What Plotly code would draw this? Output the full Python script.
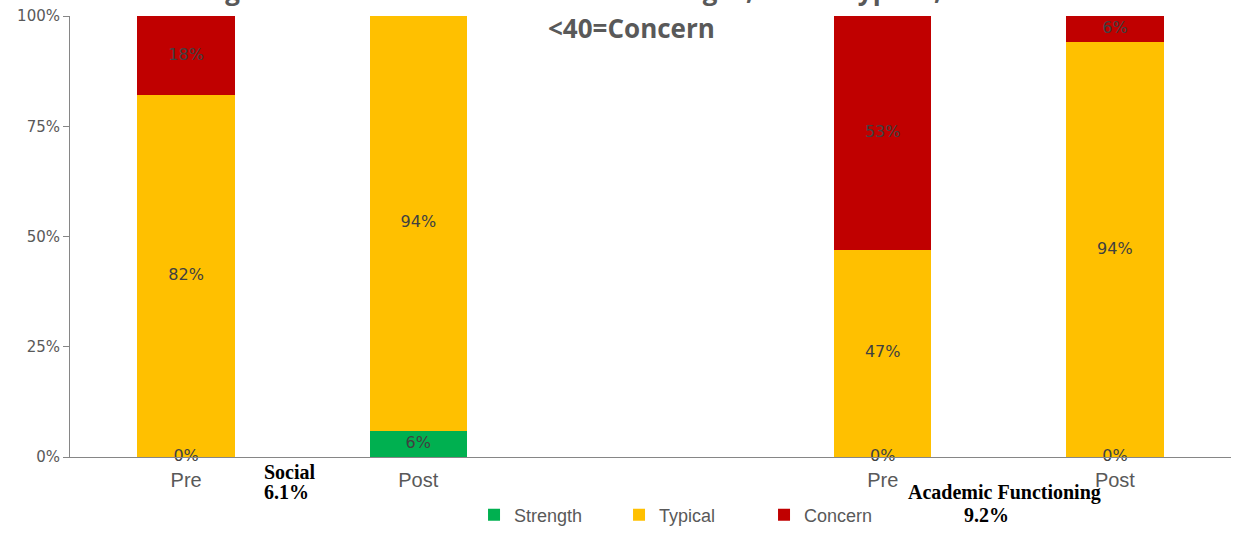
import plotly.graph_objects as go

# ---- data ----
categories = ["Social Pre", "Social Post", "gap", "Academic Pre", "Academic Post"]
tick_labels = ["Pre", "Post", "", "Pre", "Post"]
strength = [0, 6, None, 0, 0]
typical = [82, 94, None, 47, 94]
concern = [18, None, None, 53, 6]

series = [
    ("Strength", strength, "#00B050"),
    ("Typical", typical, "#FFC000"),
    ("Concern", concern, "#C00000"),
]

fig = go.Figure()
for name, vals, col in series:
    fig.add_trace(go.Bar(
        x=categories, y=vals, name=name,
        marker=dict(color=col, line=dict(width=0)),
        hoverinfo="skip",
    ))

# data labels at segment centres (computed from the data)
lab_x, lab_y, lab_t = [], [], []
base = [0] * len(categories)
for name, vals, col in series:
    for i, v in enumerate(vals):
        if v is None:
            continue
        lab_x.append(categories[i])
        lab_y.append(base[i] + v / 2)
        lab_t.append(f"{v}%")
        base[i] += v
fig.add_trace(go.Scatter(
    x=lab_x, y=lab_y, text=lab_t, mode="text",
    textfont=dict(family="DejaVu Sans", size=16, color="#404040"),
    showlegend=False, hoverinfo="skip", cliponaxis=False,
))

fig.update_layout(
    barmode="stack",
    bargap=0.58,
    width=1233, height=539,
    margin=dict(l=70, r=2, t=16, b=82),
    plot_bgcolor="white", paper_bgcolor="white",
    showlegend=True,
    legend=dict(
        orientation="h", x=0.348, xanchor="left", y=-0.1315, yanchor="middle",
        font=dict(family="Liberation Sans", size=18, color="#595959"),
        entrywidth=100, itemwidth=30, traceorder="normal",
    ),
    xaxis=dict(
        type="category", categoryorder="array", categoryarray=categories,
        tickmode="array", tickvals=categories, ticktext=tick_labels,
        range=[-0.5, 4.5],
        showline=True, linecolor="#868686", linewidth=1,
        ticks="outside", ticklen=5, tickcolor="rgba(0,0,0,0)",
        tickfont=dict(family="Liberation Sans", size=20, color="#595959"),
        showgrid=False, zeroline=False,
    ),
    yaxis=dict(
        range=[0, 100], tickvals=[0, 25, 50, 75, 100],
        ticktext=["0%", "25%", "50%", "75%", "100%"],
        showline=True, linecolor="#868686", linewidth=1,
        ticks="outside", ticklen=6, tickcolor="#868686",
        tickfont=dict(family="DejaVu Sans", size=15, color="#595959"),
        showgrid=False, zeroline=False,
    ),
)

title_font = dict(family="Open Sans", size=26, color="#595959", weight="bold")
fig.add_annotation(
    text="<b>Figure 2 Child ABAS-3 Scores >60=Strength, 41-59=Typical,</b>",
    xref="paper", yref="paper", x=0.432, y=1.058, xanchor="center", yanchor="middle",
    showarrow=False, font=title_font,
)
fig.add_annotation(
    text="<b>&lt;40=Concern</b>",
    xref="paper", yref="paper", x=0.484, y=0.9728, xanchor="center", yanchor="middle",
    showarrow=False, font=title_font,
)

serif = dict(family="Liberation Serif", size=20, color="black")
fig.add_annotation(text="<b>Social</b>", xref="paper", yref="paper", x=0.1654, y=-0.034,
                   xanchor="left", yanchor="middle", showarrow=False, font=serif)
fig.add_annotation(text="<b>6.1%</b>", xref="paper", yref="paper", x=0.1654, y=-0.0794,
                   xanchor="left", yanchor="middle", showarrow=False, font=serif)
fig.add_annotation(text="<b>Academic Functioning</b>", xref="paper", yref="paper", x=0.8053, y=-0.0816,
                   xanchor="center", yanchor="middle", showarrow=False, font=serif)
fig.add_annotation(text="<b>9.2%</b>", xref="paper", yref="paper", x=0.789, y=-0.1315,
                   xanchor="center", yanchor="middle", showarrow=False, font=serif)

fig.write_html("out.html")
